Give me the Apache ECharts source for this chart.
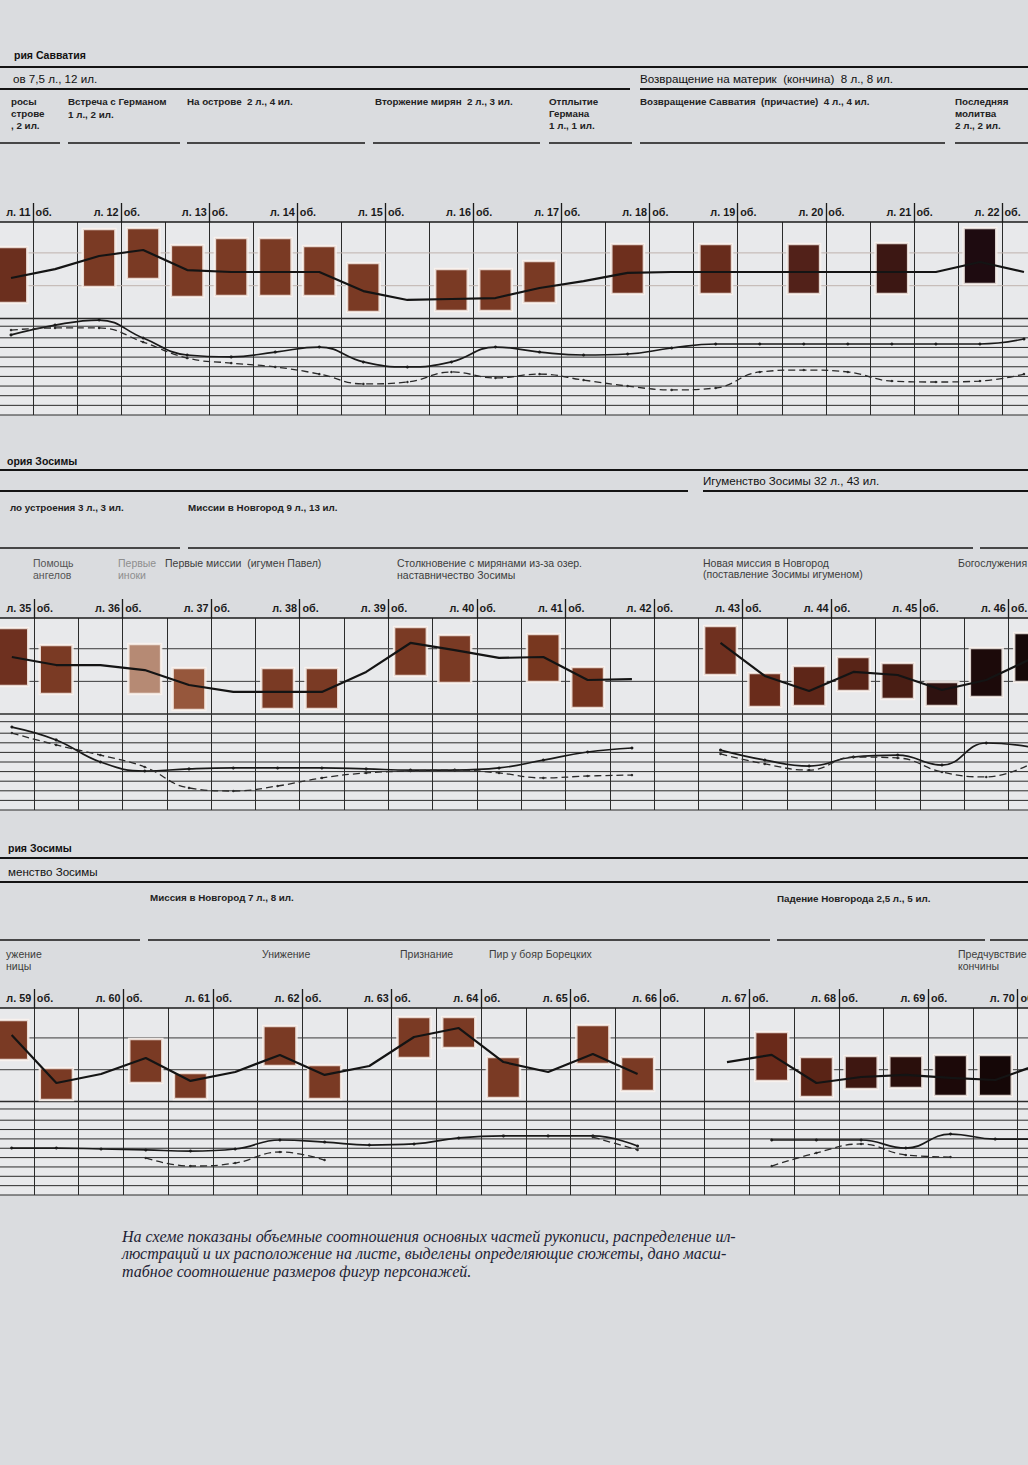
<!DOCTYPE html>
<html><head><meta charset="utf-8">
<script src="https://cdn.jsdelivr.net/npm/echarts@6/dist/echarts.min.js"></script>
<style>html,body{margin:0;padding:0;background:#dadcdf;}#c{width:1028px;height:1465px;}</style>
</head><body><div id="c"></div>
<script>
// ---------- page labels (columns = page sides) ----------
const P1_PAGES = ['л. 11','об.','л. 12','об.','л. 13','об.','л. 14','об.','л. 15','об.','л. 16','об.','л. 17','об.','л. 18','об.','л. 19','об.','л. 20','об.','л. 21','об.','л. 22','об.'];
const P2_PAGES = ['л. 35','об.','л. 36','об.','л. 37','об.','л. 38','об.','л. 39','об.','л. 40','об.','л. 41','об.','л. 42','об.','л. 43','об.','л. 44','об.','л. 45','об.','л. 46','об.'];
const P3_PAGES = ['л. 59','об.','л. 60','об.','л. 61','об.','л. 62','об.','л. 63','об.','л. 64','об.','л. 65','об.','л. 66','об.','л. 67','об.','л. 68','об.','л. 69','об.','л. 70','об.'];

// ---------- illustration blocks: top / bottom on a 0..100 scale (0 = top of field) ----------
const P1_TOP = [13.0,null,3.6,3.1,11.9,8.3,8.3,12.4,21.2,null,24.4,24.4,20.2,null,11.4,null,11.4,null,11.4,null,10.9,null,3.1,null];
const P1_BOT = [42.0,null,33.7,29.5,38.9,38.3,38.3,38.3,46.6,null,46.1,46.1,42.0,null,37.3,null,37.3,null,37.3,null,37.3,null,32.1,null];
const P2_TOP = [5.2,14.1,null,13.5,26.0,null,26.0,26.0,null,4.7,8.9,null,8.3,25.5,null,null,4.2,28.6,25.0,20.3,23.4,33.3,15.6,7.8];
const P2_BOT = [35.4,39.6,null,39.6,47.9,null,47.4,47.4,null,30.2,33.9,null,33.3,46.9,null,null,29.7,46.4,45.8,38.0,42.2,45.8,41.1,33.3];
const P3_TOP = [6.4,32.1,null,16.6,34.8,null,9.6,30.5,null,4.8,4.8,26.2,null,9.1,26.2,null,null,12.8,26.2,25.7,25.7,25.1,25.1,null];
const P3_BOT = [27.8,49.2,null,40.1,48.7,null,31.0,48.7,null,26.7,21.4,48.1,null,29.9,44.4,null,null,39.0,47.6,43.3,42.8,47.1,47.1,null];

// ---------- polyline through the blocks ----------
const P1_LINE = [29,24.4,17.6,14.5,24.9,25.9,25.9,25.9,35.8,40.4,39.9,39.4,34.2,30.6,26.4,25.9,25.9,25.9,25.9,25.9,25.9,25.9,20.7,25.9];
const P2_LINE = [20.3,24.5,24.5,27.1,34.9,38.5,38.5,38.5,28.1,13.0,16.7,20.8,20.3,32.3,31.8,null,13.0,30.2,38.0,28.1,29.7,37.5,32.3,21.4];
const P3_LINE = [14.4,40.1,35.3,26.7,39.0,34.2,25.1,35.8,31.0,15.5,10.7,28.9,34.2,24.6,35.3,null,28.9,25.1,40.1,36.9,35.8,37.4,38.5,29.9];

// ---------- figure-size curves (solid / dashed) ----------
const P1_SOLID = [58.5,53.4,50.8,60.1,68.9,69.9,67.4,64.8,72.5,75.1,72.5,64.8,67.4,68.9,68.4,65.3,63.2,63.2,63.2,63.2,63.2,63.2,63.2,60.6];
const P1_DASH  = [56.0,54.9,54.9,62.2,70.5,73.1,75.1,78.8,83.9,82.9,77.7,80.8,78.8,81.9,85.0,87.0,86.0,77.7,76.7,77.7,82.4,82.9,82.4,78.8];
const P2_SOLID = [56.8,63.5,75.0,79.7,78.6,78.1,78.1,78.1,78.6,79.2,79.2,78.1,74.0,69.8,67.7,null,68.8,74.0,77.1,72.4,71.4,76.6,65.1,67.2];
const P2_DASH  = [59.9,66.1,71.4,77.6,88.5,90.1,87.5,83.3,80.7,79.7,79.2,80.7,83.3,82.3,81.8,null,70.8,76.0,79.2,72.4,72.9,80.2,82.8,76.0];
const P3_SOLID = [74.9,74.9,75.4,75.9,76.5,75.4,70.6,71.7,73.3,72.7,69.5,68.4,68.4,68.4,73.8,null,null,70.6,70.6,70.6,74.9,67.4,70.1,70.1];
const P3_DASH  = [null,null,null,80.2,84.5,82.9,77.0,81.3,null,null,null,null,null,69.0,75.9,null,null,84.5,77.5,72.7,78.6,79.7,null,null];

// ---------- horizontal rules of the field (same scale) ----------
const H_RULES = [16,33,50,54,60,65,70,75,80,85,90,95,100];

// ---------- block colours (style, by column) ----------
const B = '#7a3a24';
const P1_COLORS = ['#6b2f1e',B,B,B,B,B,B,B,B,B,B,B,B,B,'#6e2f1d',B,'#682c1c',B,'#522119',B,'#3c1713',B,'#1e0b10',B];
const P2_COLORS = ['#6e301f',B,B,'#b68a74','#96573c',B,B,B,B,B,B,B,'#78371f','#76351f',B,B,'#6f301f','#6a2c1b','#5e2618','#582417','#4a1e14','#2e1210','#1c0a0a','#150808'];
const P3_COLORS = [B,B,B,B,B,B,B,B,B,B,B,B,B,B,B,B,B,'#6a2a1a','#5a2416','#3e1711','#2a0f0c','#1c0909','#150707',B];

const PANELS = [
  {pages:P1_PAGES, top:P1_TOP, bot:P1_BOT, line:P1_LINE, solid:P1_SOLID, dash:P1_DASH, colors:P1_COLORS,
   grid:{left:-11, top:222, width:1057, height:193}, light:'#bfb3ae'},
  {pages:P2_PAGES, top:P2_TOP, bot:P2_BOT, line:P2_LINE, solid:P2_SOLID, dash:P2_DASH, colors:P2_COLORS,
   grid:{left:-10.3, top:618, width:1063, height:192}, light:'#3a3a3a'},
  {pages:P3_PAGES, top:P3_TOP, bot:P3_BOT, line:P3_LINE, solid:P3_SOLID, dash:P3_DASH, colors:P3_COLORS,
   grid:{left:-10.7, top:1008, width:1073, height:187}, light:'#3a3a3a'}
];

// ---------- header annotations ----------
const SANS = '"Liberation Sans", Arial, sans-serif';
const FONTS = {
  h1: 'bold 10.5px ' + SANS,
  h2: '11.6px ' + SANS,
  hb: 'bold 9.8px ' + SANS,
  r:  '10.5px ' + SANS
};
const HEADER_ITEMS = [
  // panel 1
  [14, 55, 'рия Савватия', 'h1', '#111'],
  [13, 78, 'ов 7,5 л., 12 ил.', 'h2', '#111'],
  [640, 78, 'Возвращение на материк  (кончина)  8 л., 8 ил.', 'h2', '#111'],
  [11, 101, 'росы', 'hb', '#222'], [11, 113, 'строве', 'hb', '#222'], [11, 125, ', 2 ил.', 'hb', '#222'],
  [68, 101, 'Встреча с Германом', 'hb', '#222'], [68, 114, '1 л., 2 ил.', 'hb', '#222'],
  [187, 101, 'На острове  2 л., 4 ил.', 'hb', '#222'],
  [375, 101, 'Вторжение мирян  2 л., 3 ил.', 'hb', '#222'],
  [549, 101, 'Отплытие', 'hb', '#222'], [549, 113, 'Германа', 'hb', '#222'], [549, 125, '1 л., 1 ил.', 'hb', '#222'],
  [640, 101, 'Возвращение Савватия  (причастие)  4 л., 4 ил.', 'hb', '#222'],
  [955, 101, 'Последняя', 'hb', '#222'], [955, 113, 'молитва', 'hb', '#222'], [955, 125, '2 л., 2 ил.', 'hb', '#222'],
  // panel 2
  [7, 461, 'ория Зосимы', 'h1', '#111'],
  [703, 480, 'Игуменство Зосимы 32 л., 43 ил.', 'h2', '#111'],
  [10, 507, 'ло устроения 3 л., 3 ил.', 'hb', '#222'],
  [188, 507, 'Миссии в Новгород 9 л., 13 ил.', 'hb', '#222'],
  [33, 563, 'Помощь', 'r', '#555'], [33, 575, 'ангелов', 'r', '#555'],
  [118, 563, 'Первые', 'r', '#8e8e8e'], [118, 575, 'иноки', 'r', '#8e8e8e'],
  [165, 563, 'Первые миссии  (игумен Павел)', 'r', '#3c3c3c'],
  [397, 563, 'Столкновение с мирянами из-за озер.', 'r', '#3c3c3c'], [397, 575, 'наставничество Зосимы', 'r', '#3c3c3c'],
  [703, 563, 'Новая миссия в Новгород', 'r', '#3c3c3c'], [703, 574, '(поставление Зосимы игуменом)', 'r', '#3c3c3c'],
  [958, 563, 'Богослужения', 'r', '#3c3c3c'],
  // panel 3
  [8, 848, 'рия Зосимы', 'h1', '#111'],
  [8, 871, 'менство Зосимы', 'h2', '#111'],
  [150, 897, 'Миссия в Новгород 7 л., 8 ил.', 'hb', '#222'],
  [777, 898, 'Падение Новгорода 2,5 л., 5 ил.', 'hb', '#222'],
  [6, 954, 'ужение', 'r', '#3c3c3c'], [6, 966, 'ницы', 'r', '#3c3c3c'],
  [262, 954, 'Унижение', 'r', '#3c3c3c'],
  [400, 954, 'Признание', 'r', '#3c3c3c'],
  [489, 954, 'Пир у бояр Борецких', 'r', '#3c3c3c'],
  [958, 954, 'Предчувствие', 'r', '#3c3c3c'], [958, 966, 'кончины', 'r', '#3c3c3c']
];
// [y, x1, x2, lineWidth]
const RULES = [
  [67, 0, 1028, 2.2], [89, 0, 630, 2], [89, 640, 1028, 2],
  [143, 0, 60, 1.4], [143, 68, 180, 1.4], [143, 187, 365, 1.4], [143, 373, 540, 1.4], [143, 549, 632, 1.4], [143, 640, 945, 1.4], [143, 955, 1028, 1.4],
  [470, 0, 1028, 2.2], [491, 0, 688, 2], [491, 703, 1028, 2],
  [548, 0, 180, 1.4], [548, 188, 973, 1.4], [548, 980, 1028, 1.4],
  [858, 0, 1028, 2.2], [882, 0, 1028, 2],
  [940, 0, 140, 1.4], [940, 148, 770, 1.4], [940, 777, 985, 1.4], [940, 990, 1028, 1.4]
];
const CAPTION = [
  'На схеме показаны объемные соотношения основных частей рукописи, распределение ил-',
  'люстраций и их расположение на листе, выделены определяющие сюжеты, дано масш-',
  'табное соотношение размеров фигур персонажей.'
];

// ---------- build option ----------
const grids = [], xAxes = [], yAxes = [], series = [];
PANELS.forEach((p, gi) => {
  grids.push(Object.assign({show:true, backgroundColor:'#e8e9eb', borderWidth:0, containLabel:false, outerBoundsMode:'none'}, p.grid));
  xAxes.push({
    type:'category', gridIndex:gi, data:p.pages, position:'top', boundaryGap:true,
    axisLine:{show:true, lineStyle:{color:'#1a1a1a', width:1.5}},
    axisTick:{show:true, interval:(idx)=> idx % 2 === 1, length:19, lineStyle:{color:'#1a1a1a', width:1.3}},
    axisLabel:{interval:0, hideOverlap:false, margin:5,
      formatter:(v, idx)=> idx % 2 === 0 ? '{r|' + v + '}' : '{v|' + v + '}',
      rich:{
        r:{width:39, align:'right', fontFamily:'Liberation Sans', fontWeight:'bold', fontSize:10.8, color:'#1a1a1a'},
        v:{width:39, align:'left', fontFamily:'Liberation Sans', fontWeight:'bold', fontSize:10.8, color:'#1a1a1a'}
      }},
    splitLine:{show:true, interval:0, lineStyle:{color:'#2b2b2b', width:1}}
  });
  yAxes.push({type:'value', gridIndex:gi, min:0, max:100, inverse:true, show:false});

  series.push({
    type:'custom', xAxisIndex:gi, yAxisIndex:gi, silent:true, z:1,
    data:H_RULES.map(v => [0, v]),
    renderItem:(params, api) => {
      const v = api.value(1);
      const y = api.coord([0, v])[1];
      const cs = params.coordSys;
      return {type:'line', shape:{x1:cs.x, y1:y, x2:cs.x + cs.width, y2:y},
        style:{stroke: v < 50 ? p.light : '#2b2b2b', lineWidth: v === 50 ? 1.4 : 1}};
    }
  });
  const blocks = [];
  p.top.forEach((t, i) => { if (t !== null) blocks.push([i, t, p.bot[i]]); });
  series.push({
    type:'custom', xAxisIndex:gi, yAxisIndex:gi, silent:true, z:3,
    encode:{x:0, y:[1,2]},
    data:blocks,
    renderItem:(params, api) => {
      const i = api.value(0);
      const a = api.coord([i, api.value(1)]);
      const b = api.coord([i, api.value(2)]);
      const w = api.size([1, 0])[0] * 0.74;
      return {type:'rect', shape:{x:a[0] - w/2, y:a[1], width:w, height:b[1] - a[1]},
        style:{fill:p.colors[i], stroke:'rgba(250,243,238,0.85)', lineWidth:2.5}};
    }
  });
  series.push({type:'line', xAxisIndex:gi, yAxisIndex:gi, data:p.line, symbol:'none', connectNulls:false, z:5,
    lineStyle:{color:'#141414', width:2.2}, silent:true});
  series.push({type:'line', xAxisIndex:gi, yAxisIndex:gi, data:p.solid, smooth:0.45, connectNulls:false, z:4,
    symbol:'circle', symbolSize:3, itemStyle:{color:'#1a1a1a'}, lineStyle:{color:'#1a1a1a', width:1.7}, silent:true});
  series.push({type:'line', xAxisIndex:gi, yAxisIndex:gi, data:p.dash, smooth:0.45, connectNulls:false, z:4,
    symbol:'circle', symbolSize:2.5, itemStyle:{color:'#2a2a2a'}, lineStyle:{color:'#2a2a2a', width:1.3, type:[7,4]}, silent:true});
});

const elements = [];
RULES.forEach(r => elements.push({type:'line', silent:true,
  shape:{x1:r[1], y1:r[0], x2:r[2], y2:r[0]}, style:{stroke:'#141414', lineWidth:r[3]}}));
HEADER_ITEMS.forEach(h => elements.push({type:'text', silent:true, x:h[0], y:h[1],
  style:{text:h[2], font:FONTS[h[3]], fill:h[4], verticalAlign:'middle'}}));
CAPTION.forEach((t, i) => elements.push({type:'text', silent:true, x:122, y:1236 + i * 17.5,
  style:{text:t, font:'italic 16px "Liberation Serif", "Times New Roman", serif', fill:'#1d2233', verticalAlign:'middle'}}));

const chart = echarts.init(document.getElementById('c'), null, {renderer:'svg'});
chart.setOption({
  backgroundColor:'#dadcdf',
  animation:false,
  grid:grids, xAxis:xAxes, yAxis:yAxes, series:series,
  graphic:{elements:elements}
});
</script>
</body></html>
